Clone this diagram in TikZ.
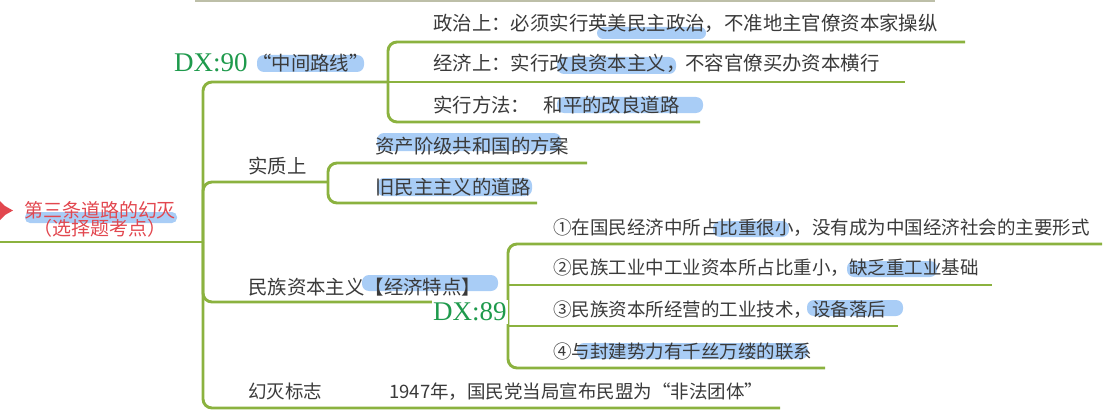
\documentclass[tikz,border=0pt]{standalone}
\usepackage{fontspec}
\setmainfont{Noto Sans CJK SC}
\newfontfamily\dxfont{Liberation Serif}
\definecolor{leafgreen}{HTML}{8BB23F}
\definecolor{hlblue}{HTML}{A9CDF6}
\definecolor{inkgray}{HTML}{3A3A3A}
\definecolor{rootred}{HTML}{E2474F}
\definecolor{dxgreen}{HTML}{1E9A4C}
\definecolor{fadeline}{HTML}{BDBFA8}

\begin{document}
\begin{tikzpicture}[
    x=1pt, y=-1pt,
    every node/.style={text=inkgray, inner sep=0pt},
    leaf/.style={anchor=west, font=\fontsize{19.4}{20}\selectfont,
                 text height=16.8pt, text depth=2.6pt},
    smallleaf/.style={leaf, font=\fontsize{18.5}{20}\selectfont,
                 text height=16pt, text depth=2.4pt},
    dxmark/.style={anchor=west, fill=white, inner ysep=3pt, inner xsep=1pt,
                   text=dxgreen, font=\dxfont\fontsize{27}{27}\selectfont},
    hl/.style={fill=hlblue, rounded corners=7pt},
  ]

  \useasboundingbox (0,0) rectangle (1120,420);

  % Branch style
  \tikzset{
    branch/.style={draw=leafgreen, line width=2.9pt, rounded corners=9pt},
  }

  % Cut-off line at the top
  \draw[fadeline, line width=2pt] (195,1) -- (935,1);

  % Highlights
  \fill[hl, rounded corners=5pt] (25,212) rectangle (177,223);
  \fill[hl] (257,55) rectangle (364,72);
  \fill[hl, rounded corners=6pt] (597,27) rectangle (706,39);
  \fill[hl] (557,57) rectangle (676,74);
  \fill[hl] (557,97) rectangle (703,113);
  \fill[hl] (377,133) rectangle (561,151);
  \fill[hl] (377,178) rectangle (532,196);
  \fill[hl] (362,275) rectangle (498,291);
  \fill[hl] (713,221) rectangle (789,237);
  \fill[hl] (847,261) rectangle (937,277);
  \fill[hl] (807,300) rectangle (903,316);
  \fill[hl] (577,343) rectangle (808,359);

  % Junctions and line ends
  \coordinate (rootend) at (0,242);
  \coordinate (hub) at (203,242);
  \coordinate (mid) at (388,82);
  \coordinate (sub) at (328,182);
  \coordinate (nat) at (508,302);
  \coordinate (lastend) at (780,408);
  \coordinate (p1) at (965,42);
  \coordinate (p2) at (905,82);
  \coordinate (p3) at (700,122);
  \coordinate (s1) at (587,163);
  \coordinate (s2) at (537,203);
  \coordinate (n1) at (1102,244);
  \coordinate (n2) at (992,285);
  \coordinate (n3) at (898,326);
  \coordinate (n4) at (825,368);

  % Branches
  \draw[branch] (rootend) -- (hub);
  \draw[branch] (hub) |- (mid);
  \draw[branch] (hub) |- (sub);
  \draw[branch] (hub) |- (nat);
  \draw[branch] (hub) |- (lastend);

  \draw[branch] (mid) |- (p1);
  \draw[branch] (mid) -- (p2);
  \draw[branch] (mid) |- (p3);

  \draw[branch] (sub) |- (s1);
  \draw[branch] (sub) |- (s2);

  \draw[branch] (nat) |- (n1);
  \draw[branch] (nat |- n2) -- (n2);
  \draw[branch] (nat |- n3) -- (n3);
  \draw[branch] (nat) |- (n4);

  % Pin
  \fill[rootred] (0,201) -- (5,206) -- (13,210.5) -- (5,215) -- (0,220) -- cycle;

  % Root
  \node[align=center, text=rootred, font=\fontsize{19}{18}\selectfont]
    (root) at (100,219) {第三条道路的幻灭\\（选择题考点）};

  % Middle road
  \node[dxmark] (dx90) at (173,63) {DX:90};
  \node[leaf] (midroad) at (252,63) {“中间路线”};
  \node[leaf] (pol) at (433,23) {政治上：必须实行英美民主政治，不准地主官僚资本家操纵};
  \node[leaf] (eco) at (433,63) {经济上：实行改良资本主义，不容官僚买办资本横行};
  \node[leaf] (way) at (433,105) {实行方法：\hspace{0.7em}和平的改良道路};

  % Essence
  \node[leaf] (essence) at (248,166) {实质上};
  \node[leaf] (plan) at (375,146) {资产阶级共和国的方案};
  \node[leaf] (oldroad) at (375,187) {旧民主主义的道路};

  % National capitalism
  \node[leaf] (natcap) at (248,287) {民族资本主义【经济特点】};
  \node[dxmark] (dx89) at (432,312) {DX:89};
  \node[smallleaf] (f1) at (553,228) {①在国民经济中所占比重很小，没有成为中国经济社会的主要形式};
  \node[smallleaf] (f2) at (553,268) {②民族工业中工业资本所占比重小，缺乏重工业基础};
  \node[smallleaf] (f3) at (553,310) {③民族资本所经营的工业技术，设备落后};
  \node[smallleaf] (f4) at (553,352) {④与封建势力有千丝万缕的联系};

  % End
  \node[smallleaf] (sign) at (248,392) {幻灭标志};
  \node[smallleaf] (ban) at (389,392) {1947年，国民党当局宣布民盟为“非法团体”};

\end{tikzpicture}
\end{document}
